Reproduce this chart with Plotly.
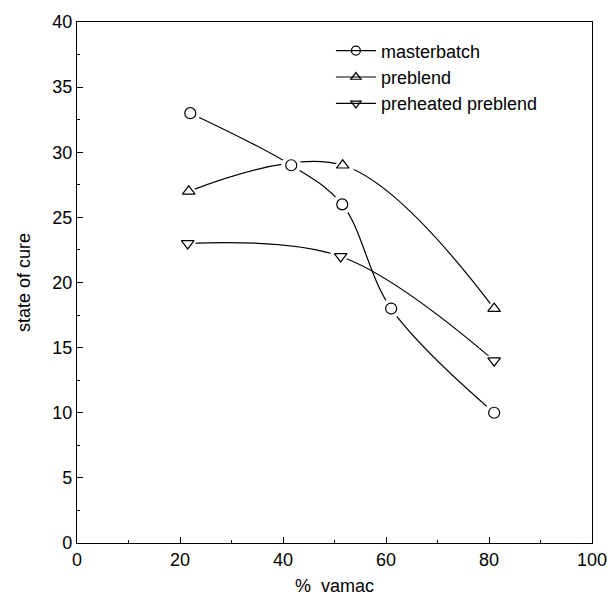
import plotly.graph_objects as go

# data
mb_x = [22, 41.6, 51.5, 61, 81]
mb_y = [33, 29, 26, 18, 10]
pb_x = [21.7, 51.6, 81]
pb_y = [27, 29, 18]
ph_x = [21.5, 51.2, 81]
ph_y = [23, 22, 14]
names = ["masterbatch", "preblend", "preheated preblend"]
symbols = ["circle-open", "triangle-up-open", "triangle-down-open"]

series = [(mb_x, mb_y), (pb_x, pb_y), (ph_x, ph_y)]

fig = go.Figure()
# curves
for (x, y) in series:
    fig.add_trace(go.Scatter(x=x, y=y, mode="lines", line=dict(color="black", width=1.2, shape="spline", smoothing=1.0),
                             showlegend=False, hoverinfo="skip"))
# white halos to create gaps
for (x, y), s in zip(series, symbols):
    fig.add_trace(go.Scatter(x=x, y=y, mode="markers", showlegend=False, hoverinfo="skip",
                             marker=dict(symbol=s.replace("-open", ""), size=20, color="white",
                                         line=dict(width=0))))
# markers
for (x, y), s, n in zip(series, symbols, names):
    fig.add_trace(go.Scatter(x=x, y=y, mode="markers", showlegend=False, name=n,
                             marker=dict(symbol=s, size=11, color="black", line=dict(width=1.2, color="black"))))
# legend entries
for s, n in zip(symbols, names):
    fig.add_trace(go.Scatter(x=[None], y=[None], mode="lines+markers", name=n,
                             line=dict(color="black", width=1.2),
                             marker=dict(symbol=s, size=9, color="black", line=dict(width=1.2, color="black"))))

font = dict(family="Liberation Sans, Arial, sans-serif", size=18, color="black")
fig.update_layout(
    width=611, height=603,
    margin=dict(l=77, r=19, t=22, b=60),
    plot_bgcolor="white", paper_bgcolor="white",
    font=font,
    showlegend=True,
    legend=dict(x=0.493, y=0.98, xanchor="left", yanchor="top", bgcolor="rgba(0,0,0,0)",
                font=font, tracegroupgap=0, itemwidth=40),
    xaxis=dict(range=[0, 100], tickmode="array", tickvals=[0, 20, 40, 60, 80, 100],
               ticks="inside", ticklen=6, tickwidth=1, tickcolor="black",
               minor=dict(tickvals=[10, 30, 50, 70, 90], ticks="inside", ticklen=3, tickcolor="black"),
               showline=True, linecolor="black", linewidth=1.2, mirror=True,
               showgrid=False, zeroline=False, automargin=False,
               title=dict(text="%\u00a0\u00a0vamac", font=font, standoff=10),
               tickfont=font),
    yaxis=dict(range=[0, 40], tickmode="array", tickvals=[0, 5, 10, 15, 20, 25, 30, 35, 40],
               ticks="inside", ticklen=6, tickwidth=1, tickcolor="black",
               minor=dict(tickvals=[2.5, 7.5, 12.5, 17.5, 22.5, 27.5, 32.5, 37.5], ticks="inside", ticklen=3, tickcolor="black"),
               showline=True, linecolor="black", linewidth=1.2, mirror=True,
               showgrid=False, zeroline=False, automargin=False,
               title=dict(text="state of cure", font=font, standoff=16),
               tickfont=font),
)

fig.write_html("out.html", config={"displayModeBar": False},
               post_script="document.body.style.margin='0';document.body.style.overflow='hidden';")
